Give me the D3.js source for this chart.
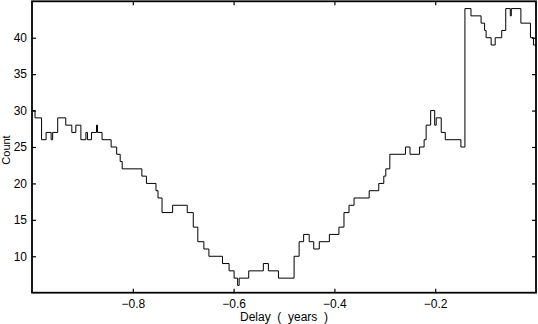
<!DOCTYPE html>
<html>
<head>
<meta charset="utf-8">
<script src="https://cdn.jsdelivr.net/npm/d3@7"></script>
<style>
  body { margin: 0; background: #fff; }
  svg { display: block; font-family: "Liberation Sans", Helvetica, Arial, sans-serif; }
</style>
</head>
<body>
<div id="chart"></div>
<script>
// step starts (delay in years) and the count held from each one
const delay = [-1.000, -0.994, -0.981, -0.972, -0.962, -0.959, -0.949, -0.933, -0.921, -0.913,
    -0.903, -0.893, -0.890, -0.882, -0.872, -0.870, -0.861, -0.843, -0.832, -0.825,
    -0.821, -0.782, -0.773, -0.754, -0.750, -0.742, -0.721, -0.692, -0.680, -0.671,
    -0.659, -0.649, -0.622, -0.609, -0.599, -0.592, -0.589, -0.570, -0.541, -0.531,
    -0.511, -0.480, -0.470, -0.461, -0.450, -0.441, -0.430, -0.410, -0.391, -0.381,
    -0.371, -0.361, -0.331, -0.312, -0.302, -0.298, -0.290, -0.259, -0.250, -0.231,
    -0.222, -0.218, -0.209, -0.201, -0.198, -0.188, -0.180, -0.149, -0.141, -0.129,
    -0.109, -0.102, -0.099, -0.089, -0.081, -0.068, -0.060, -0.051, -0.049, -0.030,
    -0.011, -0.005];
const count = [30, 29, 26, 27, 26, 27, 29, 28, 27, 28,
    26, 27, 26, 27, 28, 27, 26, 25, 24, 23,
    22, 21, 20, 19, 18, 16, 17, 16, 14, 12,
    11, 10, 9, 8, 7, 6, 7, 8, 9, 8,
    7, 10, 12, 13, 12, 11, 12, 13, 14, 16,
    17, 18, 19, 20, 21, 22, 24, 25, 24, 25,
    26, 28, 30, 28, 29, 27, 26, 25, 44, 43,
    42, 41, 40, 39, 40, 41, 44, 43, 44, 42,
    40, 39];
const xTicks = [-0.8, -0.6, -0.4, -0.2];
const yTicks = [10, 15, 20, 25, 30, 35, 40];

const width = 538;
const height = 324;
const margin = { top: 1.3, right: 2, bottom: 31.3, left: 32 };

const pts = delay.map((d, i) => ({ x: d, y: count[i] }));
pts.push({ x: 0, y: count[count.length - 1] });

const svg = d3.select('#chart')
    .append('svg')
    .attr('width', width)
    .attr('height', height);

const x = d3.scaleLinear()
    .domain([-1, 0])
    .range([margin.left, width - margin.right]);

const y = d3.scaleLinear()
    .domain([5, 45])
    .range([height - margin.bottom, margin.top]);

const line = d3.line()
    .x(d => x(d.x))
    .y(d => y(d.y))
    .curve(d3.curveStepAfter);

svg.append('path')
    .datum(pts)
    .attr('fill', 'none')
    .attr('stroke', '#000')
    .attr('stroke-width', 1)
    .attr('d', line);

function styleAxis(g) {
    g.select('.domain').remove();
    g.selectAll('.tick line').attr('stroke', '#000').attr('stroke-width', 1.2);
    g.selectAll('text').attr('font-size', 12).attr('fill', '#000');
}

// bottom axis with labels
svg.append('g')
    .attr('transform', `translate(0,${y(5)})`)
    .call(d3.axisBottom(x).tickValues(xTicks).tickSizeInner(-4).tickSizeOuter(0).tickPadding(7))
    .call(styleAxis);

// top axis, ticks only
svg.append('g')
    .attr('transform', `translate(0,${y(45)})`)
    .call(d3.axisTop(x).tickValues(xTicks).tickSizeInner(-4).tickSizeOuter(0).tickFormat(''))
    .call(styleAxis);

// left axis with labels
svg.append('g')
    .attr('transform', `translate(${x(-1)},0)`)
    .call(d3.axisLeft(y).tickValues(yTicks).tickSizeInner(-4).tickSizeOuter(0).tickPadding(5))
    .call(styleAxis);

// right axis, ticks only
svg.append('g')
    .attr('transform', `translate(${x(0)},0)`)
    .call(d3.axisRight(y).tickValues(yTicks).tickSizeInner(-4).tickSizeOuter(0).tickFormat(''))
    .call(styleAxis);

// frame
svg.append('rect')
    .attr('x', x(-1))
    .attr('y', y(45))
    .attr('width', x(0) - x(-1))
    .attr('height', y(5) - y(45))
    .attr('fill', 'none')
    .attr('stroke', '#000')
    .attr('stroke-width', 1.8);

svg.append('text')
    .attr('x', (x(-1) + x(0)) / 2)
    .attr('y', 321)
    .attr('text-anchor', 'middle')
    .attr('font-size', 12)
    .style('white-space', 'pre')
    .text('Delay  (  years  )');

svg.append('text')
    .attr('transform', `translate(10,${(y(5) + y(45)) / 2 + 3}) rotate(-90)`)
    .attr('text-anchor', 'middle')
    .attr('font-size', 11)
    .text('Count');
</script>
</body>
</html>
